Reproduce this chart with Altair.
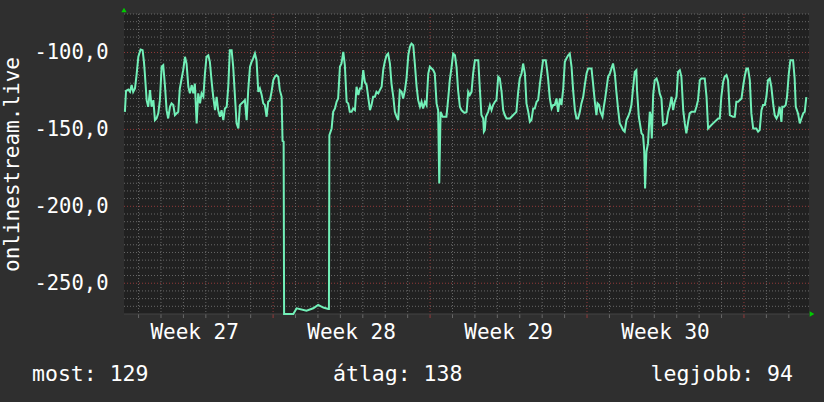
import altair as alt
import pandas as pd

# time in days (Week 27 starts at day 0), rank (plotted as negative value)
day = [0.39, 0.44, 0.54, 0.62, 0.69, 0.76, 0.84, 0.91, 0.99, 1.09, 1.18, 1.24, 1.28, 1.36, 1.43, 1.51, 1.58, 1.66,
       1.73, 1.80, 1.88, 1.95, 2.03, 2.10, 2.18, 2.25, 2.32, 2.40, 2.47, 2.55, 2.62, 2.77, 2.84, 2.99, 3.07, 3.14,
       3.22, 3.29, 3.37, 3.44, 3.51, 3.59, 3.66, 3.74, 3.81, 3.89, 3.96, 4.03, 4.11, 4.18, 4.26, 4.33, 4.41, 4.48,
       4.55, 4.63, 4.70, 4.78, 4.85, 4.93, 5.00, 5.07, 5.15, 5.22, 5.30, 5.37, 5.45, 5.52, 5.59, 5.67, 5.74, 5.82,
       5.89, 5.97, 6.04, 6.11, 6.19, 6.26, 6.34, 6.41, 6.49, 6.56, 6.63, 6.71, 6.78, 6.86, 6.93, 7.01, 7.08, 7.15,
       7.23, 7.30, 7.38, 7.42, 7.47, 7.49,
       7.90, 8.05, 8.49, 8.79, 9.01, 9.24, 9.46, 9.49, 9.51, 9.61, 9.68,
       9.76, 9.83, 9.90, 9.98, 10.05, 10.13, 10.20, 10.28, 10.35, 10.42, 10.50, 10.57, 10.65, 10.72, 10.80, 10.87,
       10.94, 11.02, 11.09, 11.17, 11.24, 11.32, 11.39, 11.46, 11.54, 11.61, 11.69, 11.76, 11.84, 11.91, 11.98,
       12.06, 12.13, 12.21, 12.28, 12.36, 12.43, 12.51, 12.58, 12.65, 12.73, 12.80, 12.88, 12.95, 13.03, 13.10,
       13.17, 13.25, 13.32, 13.40, 13.47, 13.55, 13.62, 13.69, 13.77, 13.84, 13.92, 13.99, 14.07, 14.14, 14.21,
       14.29, 14.36, 14.41, 14.47, 14.56, 14.66, 14.73, 14.81, 14.88, 14.96, 15.03, 15.11, 15.18, 15.25, 15.33,
       15.40, 15.48, 15.55, 15.63, 15.70, 15.77, 15.85, 15.92, 16.00, 16.15, 16.22, 16.29, 16.37, 16.40, 16.44,
       16.49, 16.59, 16.67, 16.74, 16.81, 16.89, 16.96, 17.04, 17.11, 17.19, 17.26, 17.33, 17.41, 17.56, 17.71,
       17.85, 17.93, 18.00, 18.08, 18.15, 18.23, 18.30, 18.38, 18.45, 18.52, 18.60, 18.67, 18.75, 18.82, 18.90,
       18.97, 19.04, 19.16, 19.22, 19.27, 19.34, 19.42, 19.49, 19.56, 19.64, 19.71, 19.79, 19.86, 19.94, 20.01,
       20.08, 20.16, 20.23, 20.31, 20.38, 20.46, 20.53, 20.60, 20.68, 20.75, 20.83, 20.90, 20.98, 21.05, 21.20,
       21.27, 21.35, 21.42, 21.47, 21.54, 21.60, 21.69, 21.75, 21.81, 21.87, 21.94, 22.02, 22.09, 22.16, 22.24,
       22.31, 22.39, 22.46, 22.54, 22.61, 22.68, 22.76, 22.83, 22.91, 22.98, 23.06, 23.13, 23.20, 23.23, 23.31,
       23.43, 23.50, 23.55, 23.59, 23.65, 23.72, 23.80, 23.84, 23.89, 23.95, 24.02, 24.10, 24.17, 24.24, 24.32,
       24.39, 24.54, 24.62, 24.69, 24.77, 24.84, 24.91, 24.99, 25.06, 25.14, 25.21, 25.29, 25.36, 25.43, 25.51,
       25.58, 25.66, 25.81, 25.88, 25.95, 26.03, 26.10, 26.25, 26.33, 26.40, 26.47, 26.62, 26.85, 26.92, 26.99,
       27.07, 27.14, 27.22, 27.29, 27.37, 27.51, 27.59, 27.66, 27.74, 27.81, 27.89, 27.96, 28.03, 28.11, 28.18,
       28.26, 28.33, 28.41, 28.55, 28.63, 28.70, 28.78, 28.85, 28.93, 29.00, 29.07, 29.15, 29.22, 29.30, 29.37,
       29.45, 29.52, 29.59, 29.67, 29.71, 29.79, 29.86, 29.92, 30.00, 30.07, 30.19, 30.26, 30.31, 30.41, 30.49,
       30.56, 30.64, 30.71, 30.78]

rank = [138.6, 124.9, 124.1, 125.6, 121.2, 125.6, 123.4, 114.7, 102.8, 98.1, 98.5, 106.1, 113.7, 131.0, 135.3, 124.5, 135.3, 131.0,
        144.0, 142.9, 139.6, 131.0, 109.3, 108.3, 122.3, 137.5, 142.9, 135.3, 133.1, 134.2, 140.7, 138.6, 123.4, 111.5, 102.8, 107.2,
        122.3, 126.6, 121.2, 126.6, 120.2, 146.1, 126.6, 133.1, 126.6, 128.8, 113.7, 102.8, 101.8, 106.1, 119.1, 128.8, 137.5, 128.8,
        137.5, 141.8, 137.5, 144.0, 136.4, 135.3, 122.3, 98.5, 98.5, 109.3, 128.8, 146.1, 149.4, 134.2, 133.1, 132.1, 131.0, 144.0,
        124.5, 109.3, 106.1, 103.9, 100.7, 105.0, 125.6, 123.4, 127.7, 133.1, 134.2, 141.8, 132.1, 131.0, 125.6, 118.0, 115.8, 114.7,
        115.8, 124.5, 128.8, 157.5, 158.0, 270.0,
        270.0, 266.3, 267.8, 266.3, 264.1, 265.8, 266.7, 266.7, 153.7, 149.4, 138.6,
        136.4, 132.1, 129.9, 109.3, 107.2, 99.6, 108.3, 132.1, 133.1, 138.6, 138.6, 136.4, 137.5, 122.3, 127.7, 123.4,
        123.4, 111.5, 119.1, 121.2, 128.8, 137.5, 134.2, 128.8, 128.8, 125.6, 126.6, 124.5, 122.3, 111.5, 106.1,
        101.8, 100.7, 107.2, 120.2, 128.8, 138.6, 141.8, 144.0, 124.5, 125.6, 129.9, 124.5, 116.9, 101.8, 96.3,
        94.2, 95.3, 107.2, 122.3, 131.0, 135.3, 132.1, 136.4, 132.1, 134.2, 113.7, 109.3, 110.4, 111.5, 113.7,
        133.1, 137.5, 185.1, 138.6, 141.8, 141.8, 141.8, 129.9, 118.0, 109.3, 100.7, 101.8, 109.3, 124.5, 135.3,
        137.5, 138.6, 139.2, 138.6, 125.6, 127.7, 125.6, 113.7, 105.0, 105.0, 123.4, 140.7, 142.9, 151.5, 150.5,
        141.8, 138.6, 134.2, 137.5, 134.2, 132.1, 131.0, 115.8, 116.9, 125.6, 137.5, 140.7, 142.9, 142.9, 140.7,
        138.6, 125.6, 116.9, 113.7, 107.2, 113.7, 133.1, 138.6, 145.1, 144.0, 136.4, 136.4, 132.1, 131.0, 120.2,
        112.6, 105.0, 105.0, 111.5, 118.0, 129.9, 136.4, 134.2, 134.2, 129.9, 138.6, 129.9, 134.2, 123.4, 106.1,
        103.9, 101.8, 100.7, 109.3, 124.5, 137.5, 142.9, 142.9, 138.6, 133.1, 128.8, 121.2, 113.7, 110.4, 110.4,
        120.2, 132.1, 140.7, 133.1, 134.2, 138.6, 141.8, 135.3, 129.9, 123.4, 115.8, 113.7, 110.4, 107.2, 113.7,
        125.6, 137.5, 146.1, 148.3, 150.5, 151.5, 144.0, 141.8, 138.6, 134.2, 122.3, 112.6, 111.5, 124.5, 141.8,
        152.6, 153.7, 163.5, 188.4, 164.5, 159.1, 138.6, 140.7, 155.9, 127.7, 118.0, 116.9, 120.2, 126.6, 129.9,
        147.2, 146.1, 138.6, 135.3, 128.8, 137.5, 132.1, 128.8, 112.6, 111.5, 115.8, 137.5, 146.1, 152.6, 145.1,
        139.6, 138.6, 138.6, 135.3, 131.0, 118.0, 116.9, 116.9, 128.8, 149.4, 148.3, 146.1, 142.9, 142.9, 128.8,
        119.1, 115.8, 114.7, 118.0, 140.7, 141.8, 141.8, 132.1, 132.1, 131.0, 129.9, 122.3, 115.8, 110.4, 110.4,
        118.0, 139.6, 149.4, 149.4, 151.5, 150.5, 137.5, 134.2, 134.2, 128.8, 118.0, 116.9, 122.3, 133.1, 140.7,
        142.9, 140.7, 135.3, 145.1, 135.3, 135.3, 134.2, 128.8, 113.7, 105.0, 105.0, 116.9, 135.3, 139.6, 146.1,
        142.9, 139.6, 138.6, 129.0]

week_names = ["Week 27", "Week 28", "Week 29", "Week 30"]
week_mid = [3.5, 10.5, 17.5, 24.5]
legend_texts = ["most: 129", "átlag: 138", "legjobb: 94"]
y_title = "onlinestream.live"

x_ticks = list(range(1, 31))
y_ticks = list(range(-265, -74, 5))

df = pd.DataFrame({"day": day, "rank": rank})
df["value"] = -df["rank"]

FONT = "DejaVu Sans Mono"
WHITE = "#ffffff"
MINOR = "#686868"
MAJOR = "#933a3a"
DASH = [1, 2]

xs = alt.Scale(domain=[0.35, 30.9], nice=False, zero=False)
ys = alt.Scale(domain=[-270, -75], nice=False, zero=False)


def y_axis():
    return alt.Axis(
        values=[-250, -200, -150, -100], title=y_title, grid=False,
        ticks=False, domain=False,
        labelExpr="'-' + replace(format(abs(datum.value), '.1f'), '.', ',')",
        labelFont=FONT, labelFontSize=20.5, labelColor=WHITE, labelPadding=16, labelOverlap=False,
        titleFont=FONT, titleFontSize=21, titleFontWeight="normal", titleColor=WHITE,
        titleX=-106, titleBaseline="alphabetic", titleAngle=270)


xdf = pd.DataFrame({"d": x_ticks})
ydf = pd.DataFrame({"v": y_ticks})

vgrid = alt.Chart(xdf).mark_rule(strokeWidth=1, strokeDash=DASH).encode(
    x=alt.X("d:Q", scale=xs, axis=None),
    color=alt.condition("datum.d % 7 === 0", alt.value(MAJOR), alt.value(MINOR)),
)
xtick = alt.Chart(xdf).mark_rule(strokeWidth=1).encode(
    x=alt.X("d:Q", scale=xs, axis=None),
    y=alt.value(300), y2=alt.value(304),
    color=alt.condition("datum.d % 7 === 0", alt.value(MAJOR), alt.value(MINOR)),
)
hgrid = alt.Chart(ydf).mark_rule(strokeWidth=1, strokeDash=DASH).encode(
    y=alt.Y("v:Q", scale=ys, axis=y_axis()),
    color=alt.condition("datum.v % 50 === 0", alt.value(MAJOR), alt.value(MINOR)),
)

line = alt.Chart(df).mark_line(color="#72F0B8", strokeWidth=2).encode(
    x=alt.X("day:Q", scale=xs, axis=None),
    y=alt.Y("value:Q", scale=ys, axis=y_axis()),
)

xaxis_line = alt.Chart(pd.DataFrame({"t": [0]})).mark_rule(color="#444444", strokeWidth=1).encode(
    x=alt.value(0), x2=alt.value(685), y=alt.value(300))

weeks = alt.Chart(pd.DataFrame({"mid": week_mid, "name": week_names})).mark_text(
    font=FONT, fontSize=21, color=WHITE, baseline="alphabetic", align="center"
).encode(x=alt.X("mid:Q", scale=xs, axis=None), y=alt.value(325), text="name:N")

dummy = pd.DataFrame({"t": [0]})


def legend_item(txt, xpos, align):
    return alt.Chart(dummy).mark_text(
        font=FONT, fontSize=21.5, color=WHITE, baseline="alphabetic", align=align, text=txt
    ).encode(x=alt.value(xpos), y=alt.value(367))


leg1 = legend_item(legend_texts[0], -92, "left")
leg2 = legend_item(legend_texts[1], 209, "left")
leg3 = legend_item(legend_texts[2], 669, "right")

arr_up = alt.Chart(dummy).mark_point(shape="triangle-up", filled=True, color="#00cc00", size=28, opacity=1).encode(
    x=alt.value(0), y=alt.value(-4))
arr_right = alt.Chart(dummy).mark_point(shape="triangle-right", filled=True, color="#00cc00", size=28, opacity=1).encode(
    x=alt.value(688), y=alt.value(300))

chart = alt.layer(hgrid, vgrid, xtick, xaxis_line, line, weeks, leg1, leg2, leg3, arr_up, arr_right).properties(
    width=685, height=300, background="#2f2f2f",
    padding={"left": 124, "top": 14, "right": 15, "bottom": 88},
    autosize=alt.AutoSizeParams(type="none"),
).configure_view(fill="#212121", stroke=None)

chart.save("out.html", embed_options={"renderer": "svg", "actions": False})
